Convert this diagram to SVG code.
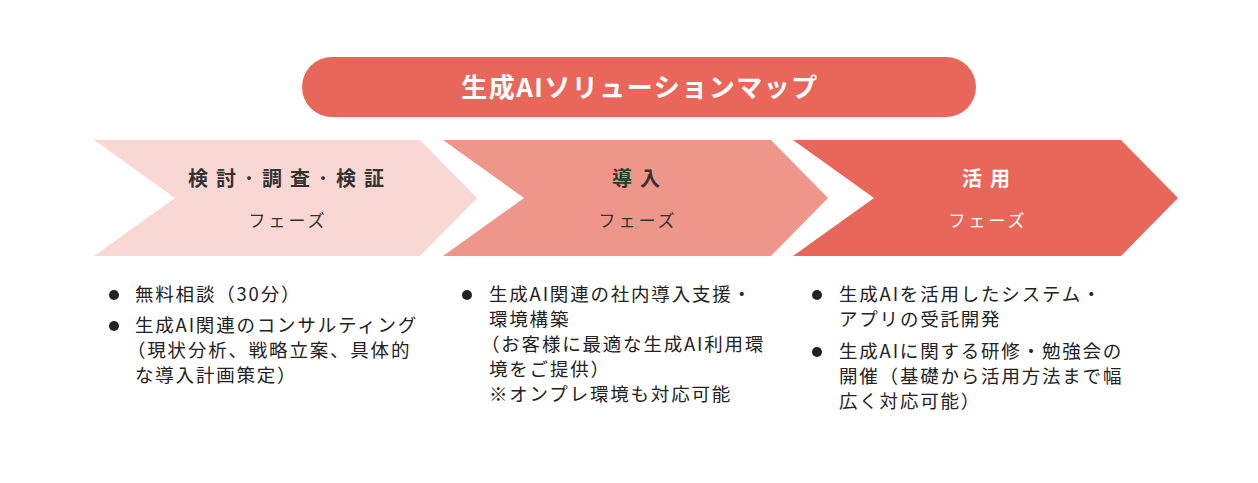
<svg xmlns="http://www.w3.org/2000/svg" width="1258" height="483" viewBox="0 0 1258 483">
<style>
text{font-family:"Noto Sans CJK JP","Noto Sans",sans-serif}
.h{font-size:20px;font-weight:bold;text-anchor:middle;letter-spacing:8px}
.s{font-size:17px;text-anchor:middle;letter-spacing:3px}
.b{font-size:18.5px;fill:#222;letter-spacing:1.8px}
</style>
<rect width="1258" height="483" fill="#fff"/>
<g id="title"><rect x="302" y="57" width="674" height="60" rx="30" fill="#e8675a"/>
<text x="640" y="97" font-size="26" font-weight="bold" fill="#fff" text-anchor="middle" letter-spacing="1.5">生成AIソリューションマップ</text></g>
<g id="phase1"><polygon points="94,140 420,140 477,198 420,256 94,256 175,198" fill="#f9d7d3"/>
<text class="h" x="290" y="186" fill="#333">検討･調査･検証</text><text class="s" x="288" y="227" fill="#333">フェーズ</text></g>
<g id="phase2"><polygon points="443,140 771,140 828,198 771,256 443,256 524,198" fill="#ef968a"/>
<text class="h" x="640" y="186" fill="#333">導入</text><text class="s" x="638" y="227" fill="#333">フェーズ</text></g>
<g id="phase3"><polygon points="793,140 1121,140 1178,198 1121,256 793,256 874,198" fill="#e8675a"/>
<text class="h" x="990" y="186" fill="#fff">活用</text><text class="s" x="988" y="227" fill="#fff">フェーズ</text></g>
<g id="list1" fill="#222">
<circle cx="114" cy="295" r="5"/><circle cx="114" cy="326" r="5"/>
<text class="b" x="135" y="301">無料相談（30分）</text>
<text class="b" x="135" y="332">生成AI関連のコンサルティング</text>
<text class="b" x="127" y="357">（現状分析、戦略立案、具体的</text>
<text class="b" x="135" y="382">な導入計画策定）</text></g>
<g id="list2" fill="#222">
<circle cx="467" cy="295" r="5"/>
<text class="b" x="489" y="301">生成AI関連の社内導入支援・</text>
<text class="b" x="489" y="326">環境構築</text>
<text class="b" x="481" y="351">（お客様に最適な生成AI利用環</text>
<text class="b" x="489" y="376">境をご提供）</text>
<text class="b" x="489" y="401">※オンプレ環境も対応可能</text></g>
<g id="list3" fill="#222">
<circle cx="817" cy="295" r="5"/><circle cx="817" cy="352" r="5"/>
<text class="b" x="839" y="301">生成AIを活用したシステム・</text>
<text class="b" x="839" y="326">アプリの受託開発</text>
<text class="b" x="839" y="358">生成AIに関する研修・勉強会の</text>
<text class="b" x="839" y="383">開催（基礎から活用方法まで幅</text>
<text class="b" x="839" y="408">広く対応可能）</text></g>
</svg>
